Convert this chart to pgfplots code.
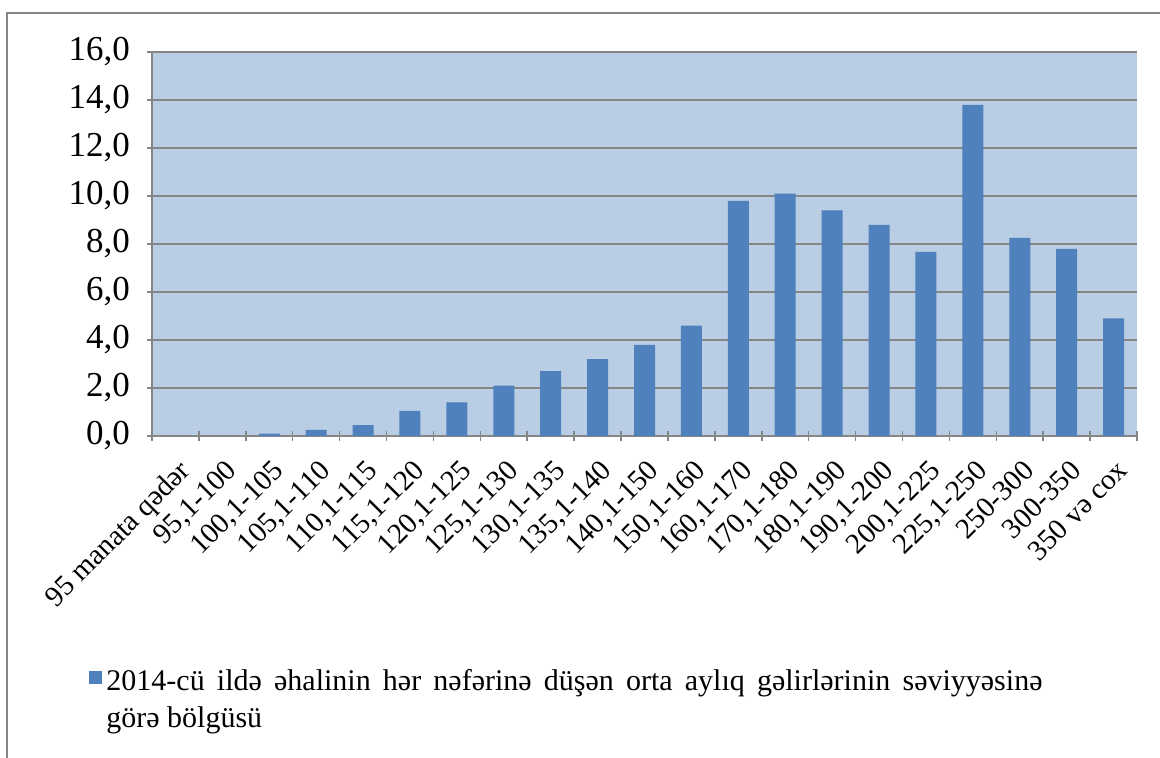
\documentclass[border=0pt]{standalone}
\usepackage{pgfplots}
\pgfplotsset{compat=1.18}
\usepackage{fontspec}
\setmainfont{Liberation Serif}
\definecolor{barblue}{HTML}{4F81BD}
\definecolor{bgblue}{HTML}{B9CDE5}
\definecolor{gridgray}{HTML}{868686}
\begin{document}
\begin{tikzpicture}
\useasboundingbox (0,0) rectangle (580pt,379pt);
\draw[gridgray, line width=1pt] (3.5pt,0) -- (3.5pt,372.5pt) -- (580pt,372.5pt);
\begin{axis}[
  at={(76pt,161pt)}, anchor=south west,
  scale only axis, width=492.5pt, height=192pt,
  xmin=-0.5, xmax=20.5, ymin=0, ymax=16,
  ytick={0,2,...,16},
  xtick={0,...,20},
  xticklabels={95 manata qədər,{95,1-100},{100,1-105},{105,1-110},{110,1-115},{115,1-120},{120,1-125},{125,1-130},{130,1-135},{135,1-140},{140,1-150},{150,1-160},{160,1-170},{170,1-180},{180,1-190},{190,1-200},{200,1-225},{225,1-250},250-300,300-350,350 və cox},
  minor xtick={-0.5,0.5,...,20.5},
  major x tick style={draw=none},
  minor tick length=5pt,
  major tick length=5pt,
  tick align=outside,
  tick style={gridgray, line width=0.75pt},
  axis lines=left,
  axis line style={-, gridgray, line width=0.75pt},
  ymajorgrids, grid style={gridgray, line width=0.9pt},
  axis background/.style={fill=bgblue},
  /pgf/number format/.cd, fixed, fixed zerofill, precision=1, use comma, assume math mode=true,
  /pgfplots/.cd,
  yticklabel style={font=\fontsize{17.5}{20}\selectfont, xshift=-5pt},
  xticklabel style={font=\fontsize{14.5}{17}\selectfont, anchor=north east, inner sep=1pt, xshift=1pt, yshift=-7pt, rotate=45},
  legend style={at={(-0.07,-0.586)}, anchor=north west, draw=none, fill=none, font=\fontsize{15}{18.5}\selectfont},
  legend cell align=left,
  legend image code/.code={\fill[barblue] (0pt,-1.2pt) rectangle (6.5pt,5.3pt);},
]
\addplot[ybar, bar width=10.5pt, fill=barblue, draw=none] coordinates {
(0,0) (1,0) (2,0.1) (3,0.25) (4,0.45) (5,1.05) (6,1.4) (7,2.1) (8,2.7) (9,3.2) (10,3.8)
(11,4.6) (12,9.8) (13,10.1) (14,9.4) (15,8.8) (16,7.67) (17,13.8) (18,8.25) (19,7.8) (20,4.9)};
\addlegendentry{\parbox[t]{475pt}{\makebox[468pt][s]{2014-cü ildə əhalinin hər nəfərinə düşən orta aylıq gəlirlərinin səviyyəsinə}\\görə bölgüsü}}
\end{axis}
\end{tikzpicture}
\end{document}
